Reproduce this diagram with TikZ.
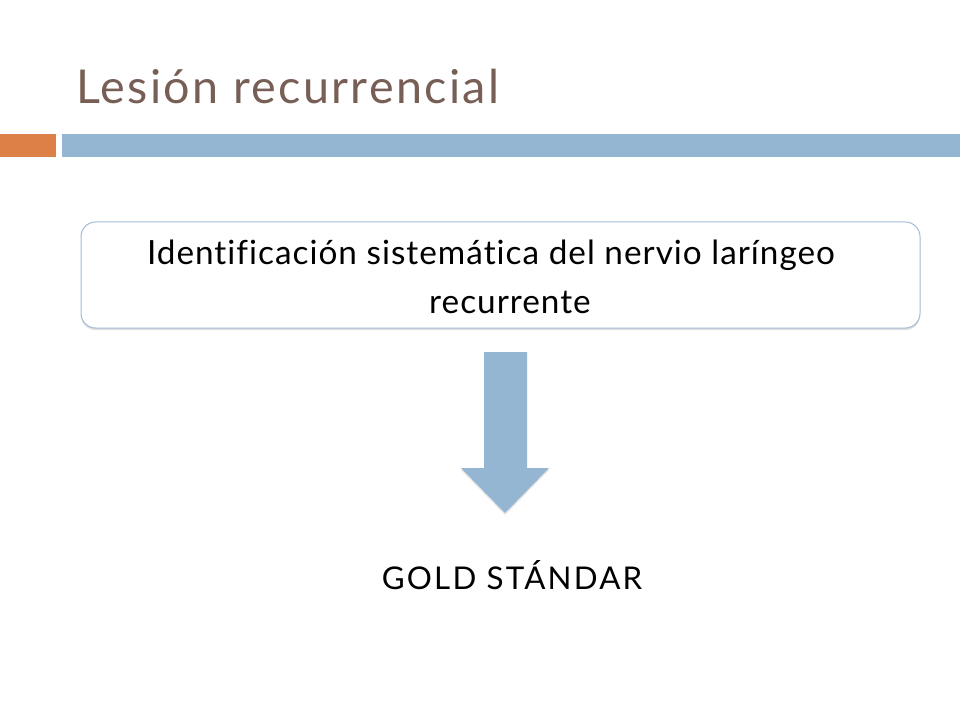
\documentclass[tikz,border=0pt]{standalone}
\usepackage{fontspec}
\setmainfont[Ligatures=NoCommon]{Lato}
\usetikzlibrary{shadows}
\definecolor{titlec}{HTML}{775F55}
\definecolor{orangec}{HTML}{DD8047}
\definecolor{bluec}{HTML}{94B6D2}
\definecolor{boxedge}{HTML}{A3BBD6}
\tikzset{
  boxstyle/.style={draw=boxedge, line width=0.75pt, rounded corners=11pt, fill=white,
    drop shadow={shadow xshift=0pt, shadow yshift=-1.5pt, opacity=0.25, fill=gray}},
  plaintext/.style={inner sep=0pt, text=black}
}
\begin{document}
\begin{tikzpicture}[x=0.75pt, y=-0.75pt]
\useasboundingbox (0,0) rectangle (960,720);
\fill[white] (0,0) rectangle (960,720);
% title
\node[anchor=base west, inner sep=0pt, text=titlec, font=\fontsize{35}{40}\selectfont\addfontfeatures{LetterSpace=5}] (title) at (76,104) {Lesión recurrencial};
% bars
\fill[orangec] (0,134) rectangle (56,157);
\fill[bluec] (62,134) rectangle (960,157);
% box
\draw[boxstyle] (81,222) rectangle (920,328);
\node[plaintext, anchor=base, font=\fontsize{25}{30}\selectfont\addfontfeatures{LetterSpace=3}] (l1) at (491,265) {Identificación sistemática del nervio laríngeo};
\node[plaintext, anchor=base, font=\fontsize{25}{30}\selectfont\addfontfeatures{LetterSpace=3}] (l2) at (510,313) {recurrente};
% arrow
\fill[bluec, drop shadow={shadow xshift=0pt, shadow yshift=-1.5pt, opacity=0.2, fill=gray}]
  (484,352) -- (527,352) -- (527,468) -- (549,468) -- (505,513) -- (461,468) -- (484,468) -- cycle;
% gold
\node[plaintext, anchor=base, font=\fontsize{23.5}{27}\selectfont\addfontfeatures{LetterSpace=7}] (gold) at (512,589) {GOLD STÁNDAR};
\end{tikzpicture}
\end{document}
